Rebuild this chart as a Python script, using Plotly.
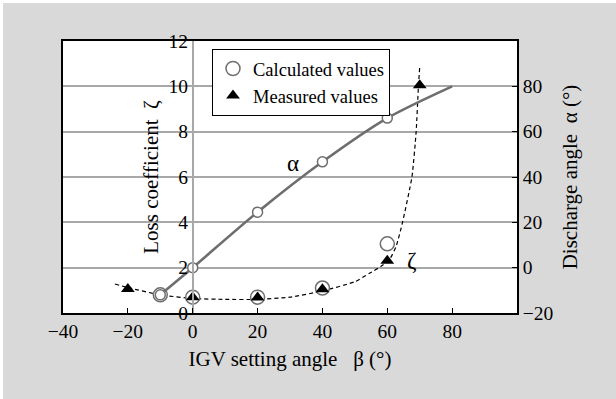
import plotly.graph_objects as go

# ---- data ----
beta_alpha_curve = [-10, 0, 20, 40, 60, 80]
alpha_curve = [-12, 0, 24.5, 46.7, 66, 80]

beta_alpha_calc = [-10, 0, 20, 40, 60]
alpha_calc = [-12, 0, 24.5, 46.7, 66]

beta_zeta_curve = [-24, -20, -10, 0, 10, 20, 30, 40, 50, 54.5, 58, 60.6, 62.7, 64.7, 67.6, 68.9, 69.6, 70]
zeta_curve = [1.28, 1.12, 0.8, 0.64, 0.6, 0.6, 0.7, 0.97, 1.38, 1.75, 2.05, 2.34, 2.93, 4.0, 6.0, 8.0, 10.0, 10.85]

beta_zeta_calc = [-10, 0, 20, 40, 60]
zeta_calc = [0.8, 0.7, 0.7, 1.1, 3.05]

beta_zeta_meas = [-20, 0, 20, 40, 60, 70]
zeta_meas = [1.06, 0.7, 0.68, 1.05, 2.3, 10.05]

x_ticks = [-40, -20, 0, 20, 40, 60, 80]
zeta_ticks = [0, 2, 4, 6, 8, 10, 12]
alpha_ticks = [-20, 0, 20, 40, 60, 80]

FONT = "Liberation Serif, Times New Roman, serif"
GRID = "#a8a8a8"
CURVE = "#6e6e6e"
TF = dict(family=FONT, size=19.5, color="black")
TITLEF = dict(family=FONT, size=21, color="black")
NB = "\u00a0"

fig = go.Figure()

fig.add_trace(go.Scatter(x=beta_alpha_curve, y=alpha_curve, yaxis="y2", mode="lines",
                         line=dict(color=CURVE, width=2.6, shape="spline", smoothing=0.8),
                         showlegend=False, hoverinfo="skip"))
fig.add_trace(go.Scatter(x=beta_zeta_curve, y=zeta_curve, mode="lines",
                         line=dict(color="black", width=1.2, dash="4px,3px", shape="spline", smoothing=0.5),
                         showlegend=False, hoverinfo="skip"))
fig.add_trace(go.Scatter(x=beta_zeta_calc, y=zeta_calc, mode="markers", name="Calculated values",
                         marker=dict(symbol="circle", size=14, color="white",
                                     line=dict(color=CURVE, width=1.5))))
fig.add_trace(go.Scatter(x=beta_alpha_calc, y=alpha_calc, yaxis="y2", mode="markers",
                         marker=dict(symbol="circle", size=10, color="white",
                                     line=dict(color=CURVE, width=1.5)),
                         showlegend=False))
fig.add_trace(go.Scatter(x=beta_zeta_meas, y=zeta_meas, mode="markers", name="Measured values",
                         marker=dict(symbol="triangle-up", size=12, color="black")))

fig.add_shape(type="rect", xref="paper", yref="paper",
              x0=(3 - 63) / 454, x1=(620 - 63) / 454, y0=(313 - 402) / 272, y1=(313 - 3) / 272,
              fillcolor="#d9d9d9", line=dict(width=0), layer="below")
fig.add_shape(type="rect", xref="paper", yref="paper", x0=0, x1=1, y0=0, y1=1,
              fillcolor="white", line=dict(width=0), layer="below")

fig.add_annotation(x=31, y=6.6, text="α", showarrow=False, font=dict(family=FONT, size=23, color="black"))
fig.add_annotation(x=67.5, y=2.3, text="ζ", showarrow=False, font=dict(family=FONT, size=23, color="black"))

fig.update_layout(
    width=616, height=399,
    margin=dict(l=63, r=99, t=41, b=86),
    paper_bgcolor="white", plot_bgcolor="white",
    font=TF,
    xaxis=dict(range=[-40, 100], tickvals=x_ticks, showgrid=False, zeroline=False,
               showline=True, linecolor="black", linewidth=1.5, mirror=True,
               ticks="inside", ticklen=5, tickcolor="black", tickfont=TF,
               title=dict(text=f"IGV setting angle{NB}{NB}{NB}β (°)", standoff=10, font=TITLEF)),
    yaxis=dict(range=[0, 12], tickvals=zeta_ticks, anchor="free", position=40 / 140,
               showgrid=False, zeroline=False, showline=True, linecolor=GRID, linewidth=1.5,
               ticks="", tickfont=TF,
               title=dict(text=f"Loss coefficient{NB}{NB}ζ", standoff=3, font=TITLEF)),
    yaxis2=dict(range=[-20, 100], tickvals=alpha_ticks, overlaying="y", side="right", anchor="x",
                showgrid=True, gridcolor=GRID, gridwidth=1.5, zeroline=False,
                showline=True, linecolor="black", linewidth=1.5, mirror=True,
                ticks="inside", ticklen=5, tickcolor="black", tickfont=TF,
                title=dict(text=f"Discharge angle{NB}{NB}α (°)", standoff=10, font=TITLEF)),
    legend=dict(x=(212 - 63) / 454, y=(313 - 49) / 272, xanchor="left", yanchor="top",
                bgcolor="white", bordercolor="black", borderwidth=1,
                font=dict(family=FONT, size=18.5, color="black"), tracegroupgap=0, itemwidth=30),
    showlegend=True,
)

fig.write_html("out.html")
